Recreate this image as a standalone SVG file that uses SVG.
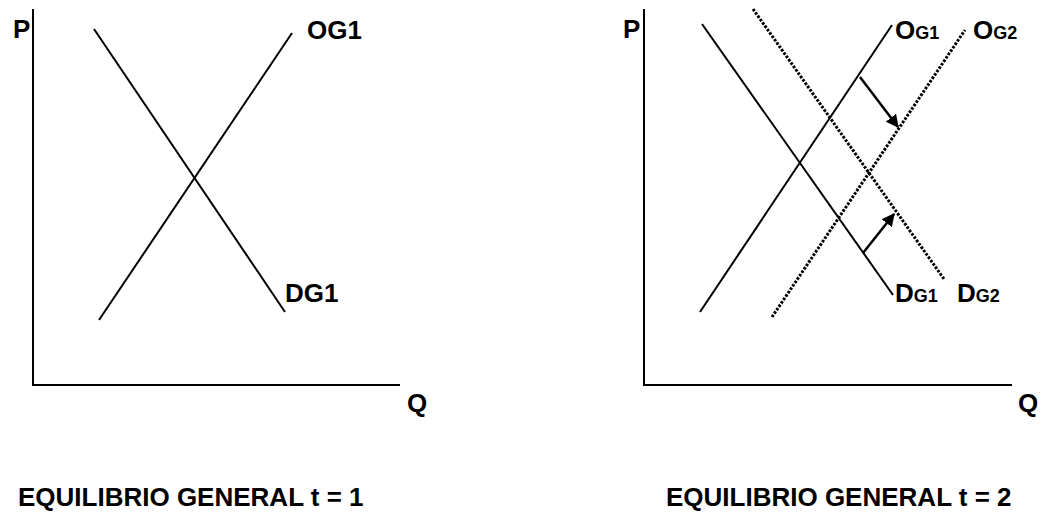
<svg xmlns="http://www.w3.org/2000/svg" width="1050" height="512" viewBox="0 0 1050 512">
<style>
text{font-family:"Liberation Sans",Arial,sans-serif;font-weight:bold;fill:#000}
.lbl{font-size:26px}
.sub{font-size:18px}
.ax{stroke:#000;stroke-width:2;fill:none}
.ln{stroke:#000;stroke-width:2;fill:none}
.dot{stroke:#000;stroke-width:3;stroke-dasharray:2.6 1.5;fill:none}
.arr{stroke:#000;stroke-width:2.5;fill:none}
</style>
<defs>
<marker id="ah" viewBox="0 0 10 10" refX="9" refY="5" markerWidth="5.2" markerHeight="5.2" orient="auto" markerUnits="strokeWidth">
<path d="M0,0 L10,5 L0,10 z" fill="#000"/>
</marker>
</defs>
<rect width="1050" height="512" fill="#fff"/>
<g id="axes-left">
<path class="ax" d="M33,9 V385 H400"/>
<text class="lbl" x="13" y="38">P</text>
<text class="lbl" x="407" y="412">Q</text>
</g>
<g id="axes-right">
<path class="ax" d="M644,9 V385 H1012"/>
<text class="lbl" x="623" y="38">P</text>
<text class="lbl" x="1018" y="412">Q</text>
</g>
<g id="curve-DG1-left">
<line class="ln" x1="94" y1="29" x2="285" y2="312"/>
<text class="lbl" x="285" y="302">DG1</text>
</g>
<g id="curve-OG1-left">
<line class="ln" x1="99" y1="320" x2="292" y2="33"/>
<text class="lbl" x="307" y="39">OG1</text>
</g>
<g id="curve-DG1-right">
<line class="ln" x1="702" y1="24" x2="893" y2="295"/>
<text x="895" y="302"><tspan class="lbl">D</tspan><tspan class="sub">G1</tspan></text>
</g>
<g id="curve-OG1-right">
<line class="ln" x1="700" y1="312" x2="892" y2="25"/>
<text x="895" y="39"><tspan class="lbl">O</tspan><tspan class="sub">G1</tspan></text>
</g>
<g id="curve-DG2-right">
<line class="dot" x1="753" y1="9" x2="944" y2="279"/>
<text x="957" y="302"><tspan class="lbl">D</tspan><tspan class="sub">G2</tspan></text>
</g>
<g id="curve-OG2-right">
<line class="dot" x1="772" y1="317" x2="965" y2="30"/>
<text x="973" y="39"><tspan class="lbl">O</tspan><tspan class="sub">G2</tspan></text>
</g>
<g id="connectors">
<line class="arr" x1="860" y1="77" x2="898" y2="127" marker-end="url(#ah)"/>
<line class="arr" x1="863" y1="253" x2="894" y2="214" marker-end="url(#ah)"/>
</g>
<g id="titles">
<text class="lbl" x="18" y="506">EQUILIBRIO GENERAL t = 1</text>
<text class="lbl" x="666" y="506">EQUILIBRIO GENERAL t = 2</text>
</g>
</svg>
